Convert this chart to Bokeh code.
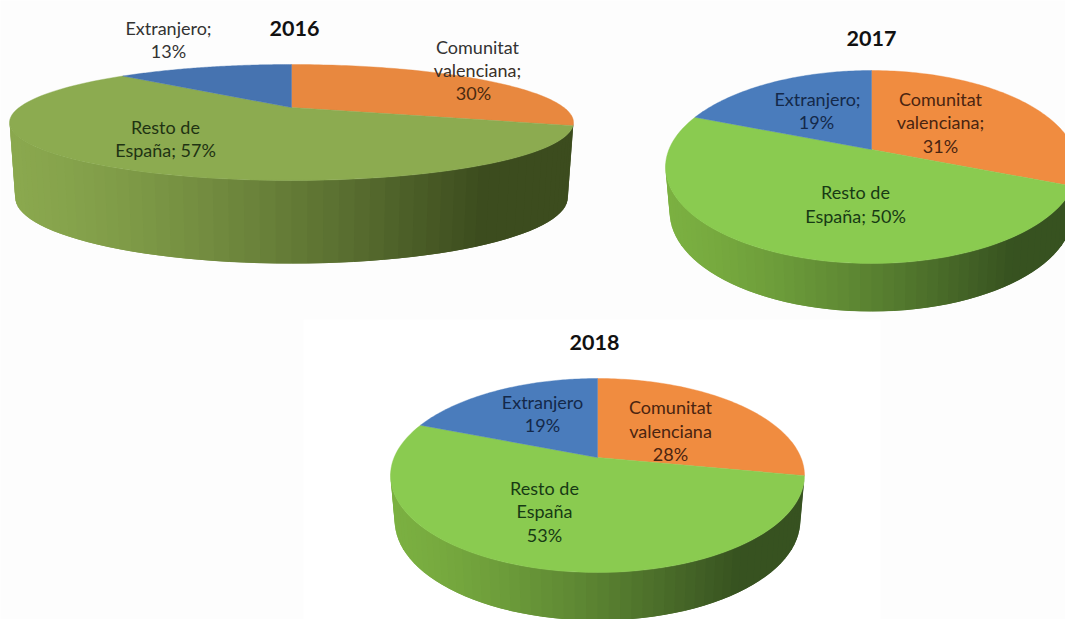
import numpy as np
from bokeh.plotting import figure
from bokeh.models import Range1d, ColumnDataSource
from bokeh.core.properties import value
from bokeh.embed import file_html
from bokeh.resources import INLINE

categories = ["Comunitat valenciana", "Resto de España", "Extranjero"]
values_2016 = [30, 57, 13]
values_2017 = [31, 50, 19]
values_2018 = [28, 53, 19]

# geometry/style of each pie: centre, extents of the top face, wall
pies = [
    dict(vals=values_2016, cx=291, cy=107, up=43, down=73, rx=282, sx=.98, sy=1.138, d=73,
         top=["#e8883f", "#8cab50", "#4673b0"], side_l="#8aa84e", side_r="#3c4c1e", title="2016", tx=294, ty=28),
    dict(vals=values_2017, cx=871, cy=149, up=79, down=114, rx=206, sx=.98, sy=1.03, d=44.6,
         top=["#f08c40", "#8acb50", "#4a7cbc"], side_l="#7bb041", side_r="#375220", title="2017", tx=871, ty=38),
    dict(vals=values_2018, cx=597, cy=457, up=79, down=115, rx=207, sx=.98, sy=1.03, d=44.6,
         top=["#f08c40", "#8acb50", "#4a7cbc"], side_l="#7bb041", side_r="#375220", title="2018", tx=594, ty=342),
]

label_rows = [
    ("Extranjero;", 168, 27, "#333333"), ("13%", 168, 50, "#333333"),
    ("Comunitat", 477, 46, "#333333"), ("valenciana;", 477, 69, "#3a3028"), ("30%", 473, 92, "#4a2a10"),
    ("Resto de", 165, 126, "#1f3313"), ("España; 57%", 165, 149, "#1f3313"),
    ("Extranjero;", 817, 98, "#14294a"), ("19%", 816, 121, "#14294a"),
    ("Comunitat", 940, 98, "#4a2410"), ("valenciana;", 940, 121, "#4a2410"), ("31%", 940, 145, "#4a2410"),
    ("Resto de", 855, 191, "#173a14"), ("España; 50%", 855, 215, "#173a14"),
    ("Extranjero", 542, 401, "#14294a"), ("19%", 542, 424, "#14294a"),
    ("Comunitat", 670, 406, "#4a2410"), ("valenciana", 670, 430, "#4a2410"), ("28%", 670, 453, "#4a2410"),
    ("Resto de", 544, 487, "#173a14"), ("España", 544, 510, "#173a14"), ("53%", 544, 534, "#173a14"),
]


def hex2rgb(h):
    return np.array([int(h[i:i + 2], 16) for i in (1, 3, 5)], float)


def mix(a, b, t):
    c = hex2rgb(a) * (1 - t) + hex2rgb(b) * t
    return "#%02x%02x%02x" % tuple(int(round(x)) for x in c)


def project(pie, theta):
    """Perspective projection of a disc; theta in degrees clockwise from the top."""
    b = (pie["down"] - pie["up"]) / (pie["down"] + pie["up"])
    a = pie["up"] * (1 + b)
    c = pie["rx"] * np.sqrt(1 - b * b)
    u, v = np.sin(np.radians(theta)), np.cos(np.radians(theta))
    den = 1 + b * v
    return c * u / den, -a * v / den, b


W, H = 1065, 619
p = figure(width=W, height=H, output_backend="svg", toolbar_location=None,
           x_range=Range1d(0, W), y_range=Range1d(H, 0),
           min_border=0, background_fill_color="#fdfdfd",
           border_fill_color="#fdfdfd", outline_line_color=None)
p.axis.visible = False
p.grid.visible = False

# lighter panel behind the 2018 chart
p.quad(left=[303], right=[880], top=[319], bottom=[H], fill_color="#ffffff", line_color=None)

for pie in pies:
    _, _, b = project(pie, 0.0)
    delta = np.degrees(np.arcsin(b))
    # wall: overlapping strips so no seams show
    edges = np.linspace(90 + delta, 270 - delta, 61)
    xs, ys, cols = [], [], []
    for t0, t1 in zip(edges[:-1], edges[1:]):
        X0, Y0, _ = project(pie, t0)
        X1, Y1, _ = project(pie, t1 + (t1 - t0))
        xs.append([pie["cx"] + X0, pie["cx"] + X1,
                   pie["cx"] + pie["sx"] * X1, pie["cx"] + pie["sx"] * X0])
        ys.append([pie["cy"] + Y0, pie["cy"] + Y1,
                   pie["cy"] + pie["sy"] * Y1 + pie["d"], pie["cy"] + pie["sy"] * Y0 + pie["d"]])
        f = ((X0 + X1) / 2 + pie["rx"]) / (2 * pie["rx"])
        cols.append(mix(pie["side_l"], pie["side_r"], min(1.0, f / 0.85) ** 1.4))
    p.patches(xs[::-1], ys[::-1], fill_color=cols[::-1], line_color=None)
    # top face
    cum = np.cumsum([0] + list(pie["vals"])) / sum(pie["vals"]) * 360
    for i, cat in enumerate(categories):
        th = np.linspace(cum[i], cum[i + 1], 90)
        X, Y, _ = project(pie, th)
        p.patch(np.r_[pie["cx"], pie["cx"] + X], np.r_[pie["cy"], pie["cy"] + Y],
                fill_color=pie["top"][i], line_color=pie["top"][i], line_width=0.4)

label_src = ColumnDataSource(dict(
    text=[r[0] for r in label_rows], x=[r[1] for r in label_rows],
    y=[r[2] for r in label_rows], c=[r[3] for r in label_rows]))
p.text(x="x", y="y", text="text", source=label_src, text_color="c",
       text_font=value("Lato"), text_font_size="18px",
       text_align="center", text_baseline="middle")

title_src = ColumnDataSource(dict(text=[q["title"] for q in pies],
                                  x=[q["tx"] for q in pies], y=[q["ty"] for q in pies]))
p.text(x="x", y="y", text="text", source=title_src, text_color="#111111",
       text_font=value("Lato"), text_font_style="bold", text_font_size="21.5px",
       text_align="center", text_baseline="middle")

open("out.html", "w").write(file_html(p, INLINE))
